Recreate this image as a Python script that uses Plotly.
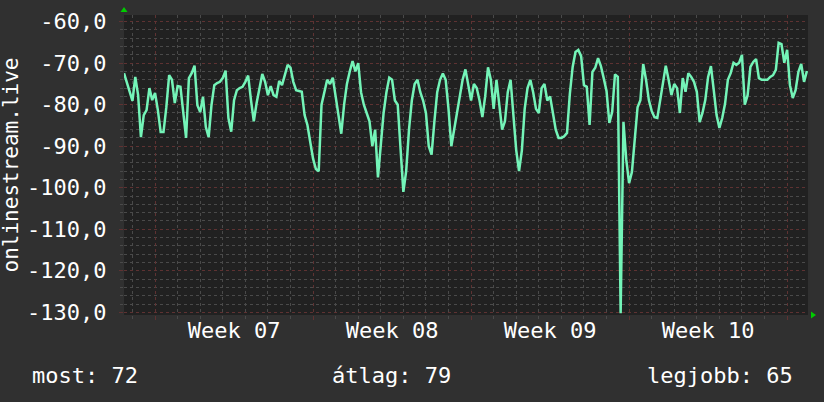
import plotly.graph_objects as go
import pandas as pd

# ---- data ----
start_time = "2024-02-10 15:00"
end_time = "2024-03-11 22:12"
step_hours = 3
values = [
    -72.4, -74.8, -76.7, -79.1, -73.3, -77.7, -87.8, -82.5, -81.3, -76.0,
    -78.9, -77.2, -81.3, -86.6, -86.6, -80.6, -72.9, -74.0, -79.6, -75.5,
    -75.7, -82.5, -88.0, -73.6, -72.4, -70.6, -80.1, -81.8, -78.1, -85.4,
    -87.8, -80.1, -75.3, -74.8, -74.5, -73.6, -71.8, -83.2, -86.5, -78.9,
    -76.5, -76.0, -75.7, -74.5, -73.0, -78.9, -84.0, -79.6, -75.7, -72.6,
    -74.5, -77.7, -75.5, -77.7, -78.1, -74.3, -75.3, -72.6, -70.4, -71.1,
    -74.5, -76.5, -76.7, -76.9, -82.5, -84.9, -89.0, -93.0, -95.5, -96.0,
    -80.0, -77.0, -74.0, -75.0, -73.5, -78.0, -83.0, -87.0, -80.0, -75.0,
    -72.0, -69.5, -72.0, -70.0, -77.0, -80.0, -82.0, -84.0, -90.0, -86.0,
    -97.5, -90.0, -82.0, -77.0, -73.5, -74.0, -79.0, -80.0, -90.0, -101.0,
    -96.0, -86.0, -79.0, -75.0, -74.0, -77.0, -79.0, -82.0, -90.0, -92.0,
    -84.0, -77.0, -74.0, -72.5, -74.0, -81.0, -90.0, -86.0, -81.0, -77.0,
    -74.0, -71.5, -75.0, -79.0, -75.0, -76.0, -79.0, -83.0, -78.0, -71.0,
    -74.0, -81.0, -74.0, -80.0, -86.0, -84.0, -77.0, -74.0, -82.0, -91.0,
    -96.0, -91.0, -81.0, -76.0, -74.0, -77.0, -81.0, -82.0, -76.0, -75.0,
    -79.0, -78.0, -82.0, -86.0, -88.0, -88.0, -87.6, -86.8, -77.4, -70.9,
    -67.3, -66.8, -68.3, -75.3, -75.7, -84.9, -72.1, -71.1, -68.8, -70.7,
    -73.6, -76.7, -84.4, -81.8, -72.7, -73.3, -130.2, -84.2, -93.3, -98.9,
    -96.2, -88.5, -80.6, -78.9, -70.2, -74.0, -78.9, -81.5, -83.0, -83.2,
    -78.9, -74.0, -70.6, -74.0, -77.7, -75.0, -76.0, -82.0, -73.6, -76.9,
    -72.4, -73.3, -74.5, -76.9, -84.2, -82.0, -78.9, -73.3, -70.7, -76.5,
    -82.5, -85.6, -83.2, -79.8, -74.0, -72.4, -69.9, -70.4, -69.9, -68.0,
    -80.0, -77.7, -70.9, -69.7, -69.0, -73.6, -74.0, -74.0, -74.0, -73.3,
    -72.9, -71.6, -65.1, -65.4, -69.9, -66.8, -75.3, -78.4, -76.5, -72.1,
    -70.2, -74.5, -71.9,
]
y_tick_vals = [-60, -70, -80, -90, -100, -110, -120, -130]
y_tick_text = ["-60,0", "-70,0", "-80,0", "-90,0", "-100,0", "-110,0", "-120,0", "-130,0"]
week_tick_vals = ["2024-02-15 12:00", "2024-02-22 12:00", "2024-02-29 12:00", "2024-03-07 12:00"]
week_tick_text = ["Week 07", "Week 08", "Week 09", "Week 10"]
y_title = "onlinestream.live"
legend_texts = ["most: 72", "átlag: 79", "legjobb: 65"]
y_range = [-130.65, -58.4]

times = pd.date_range(start_time, periods=len(values), freq=f"{step_hours}h")

# ---- style ----
FONT = "DejaVu Sans Mono"
BG = "#303030"
PLOT_BG = "#212121"
LINE = "#74f4b8"
MAJOR = "#5e3232"
MINOR = "#4a4a4a"
ARROW = "#00cc00"

fig = go.Figure()
fig.add_trace(go.Scatter(x=times, y=values, mode="lines",
                         line=dict(color=LINE, width=2.5), hoverinfo="skip",
                         showlegend=False))
fig.add_trace(go.Scatter(x=[start_time, end_time], y=[None, None], xaxis="x2",
                         mode="lines", showlegend=False, hoverinfo="skip"))

fig.update_layout(
    width=824, height=402,
    margin=dict(l=124, r=16, t=15, b=87, autoexpand=False),
    paper_bgcolor=BG, plot_bgcolor=PLOT_BG,
    font=dict(family=FONT, size=22, color="white"),
    hovermode=False,
    xaxis=dict(
        type="date", range=[start_time, end_time], automargin=False,
        tick0="2024-02-12", dtick=7 * 86400000,
        showgrid=True, gridcolor=MAJOR, griddash="dot", gridwidth=1,
        showticklabels=False, ticks="outside", ticklen=4, tickcolor=MAJOR,
        zeroline=False, showline=False,
        minor=dict(dtick=86400000, tick0="2024-02-12", showgrid=True,
                   gridcolor=MINOR, griddash="dot", gridwidth=1,
                   ticks="outside", ticklen=3, tickcolor=MINOR),
    ),
    xaxis2=dict(
        type="date", range=[start_time, end_time], overlaying="x",
        side="bottom", anchor="y", automargin=False,
        tickmode="array", tickvals=week_tick_vals, ticktext=week_tick_text,
        showgrid=False, ticks="", zeroline=False, showline=False,
        ticklabelstandoff=0,
        tickfont=dict(family=FONT, size=22, color="white"),
    ),
    yaxis=dict(
        range=y_range, tickmode="array", tickvals=y_tick_vals, ticktext=y_tick_text,
        automargin=False,
        showgrid=True, gridcolor=MAJOR, griddash="dot", gridwidth=1,
        ticks="outside", ticklen=4, tickcolor=MAJOR,
        zeroline=False, showline=False, ticklabelstandoff=8,
        tickfont=dict(family=FONT, size=22, color="white"),
        minor=dict(dtick=2, tick0=-130, showgrid=True, gridcolor=MINOR,
                   griddash="dot", gridwidth=1, ticks="outside", ticklen=3,
                   tickcolor=MINOR),
    ),
)

# rotated y title
fig.add_annotation(text=y_title, textangle=-90, xref="paper", yref="paper",
                   x=-0.1645, y=0.5, xanchor="center", yanchor="middle",
                   showarrow=False, font=dict(family=FONT, size=21, color="white"))

# legend line
for txt, xp, anchor in zip(legend_texts, [-0.1374, 0.3911, 0.9810], ["left", "center", "right"]):
    fig.add_annotation(text=txt, xref="paper", yref="paper", x=xp, y=-0.2,
                       xanchor=anchor, yanchor="middle", showarrow=False,
                       font=dict(family=FONT, size=22, color="white"))

# axis arrows
fig.add_shape(type="path", xref="paper", yref="paper", xsizemode="pixel",
              ysizemode="pixel", xanchor=0, yanchor=1,
              path="M -3.5,3 L 3.5,3 L 0,8 Z", fillcolor=ARROW, line=dict(width=0))
fig.add_shape(type="path", xref="paper", yref="paper", xsizemode="pixel",
              ysizemode="pixel", xanchor=1, yanchor=0,
              path="M 3,3.5 L 3,-3.5 L 8,0 Z", fillcolor=ARROW, line=dict(width=0))

fig.write_html(
    "out.html",
    config={"displayModeBar": False, "staticPlot": True},
    post_script="document.body.style.margin='0';document.body.style.background='#303030';",
)
